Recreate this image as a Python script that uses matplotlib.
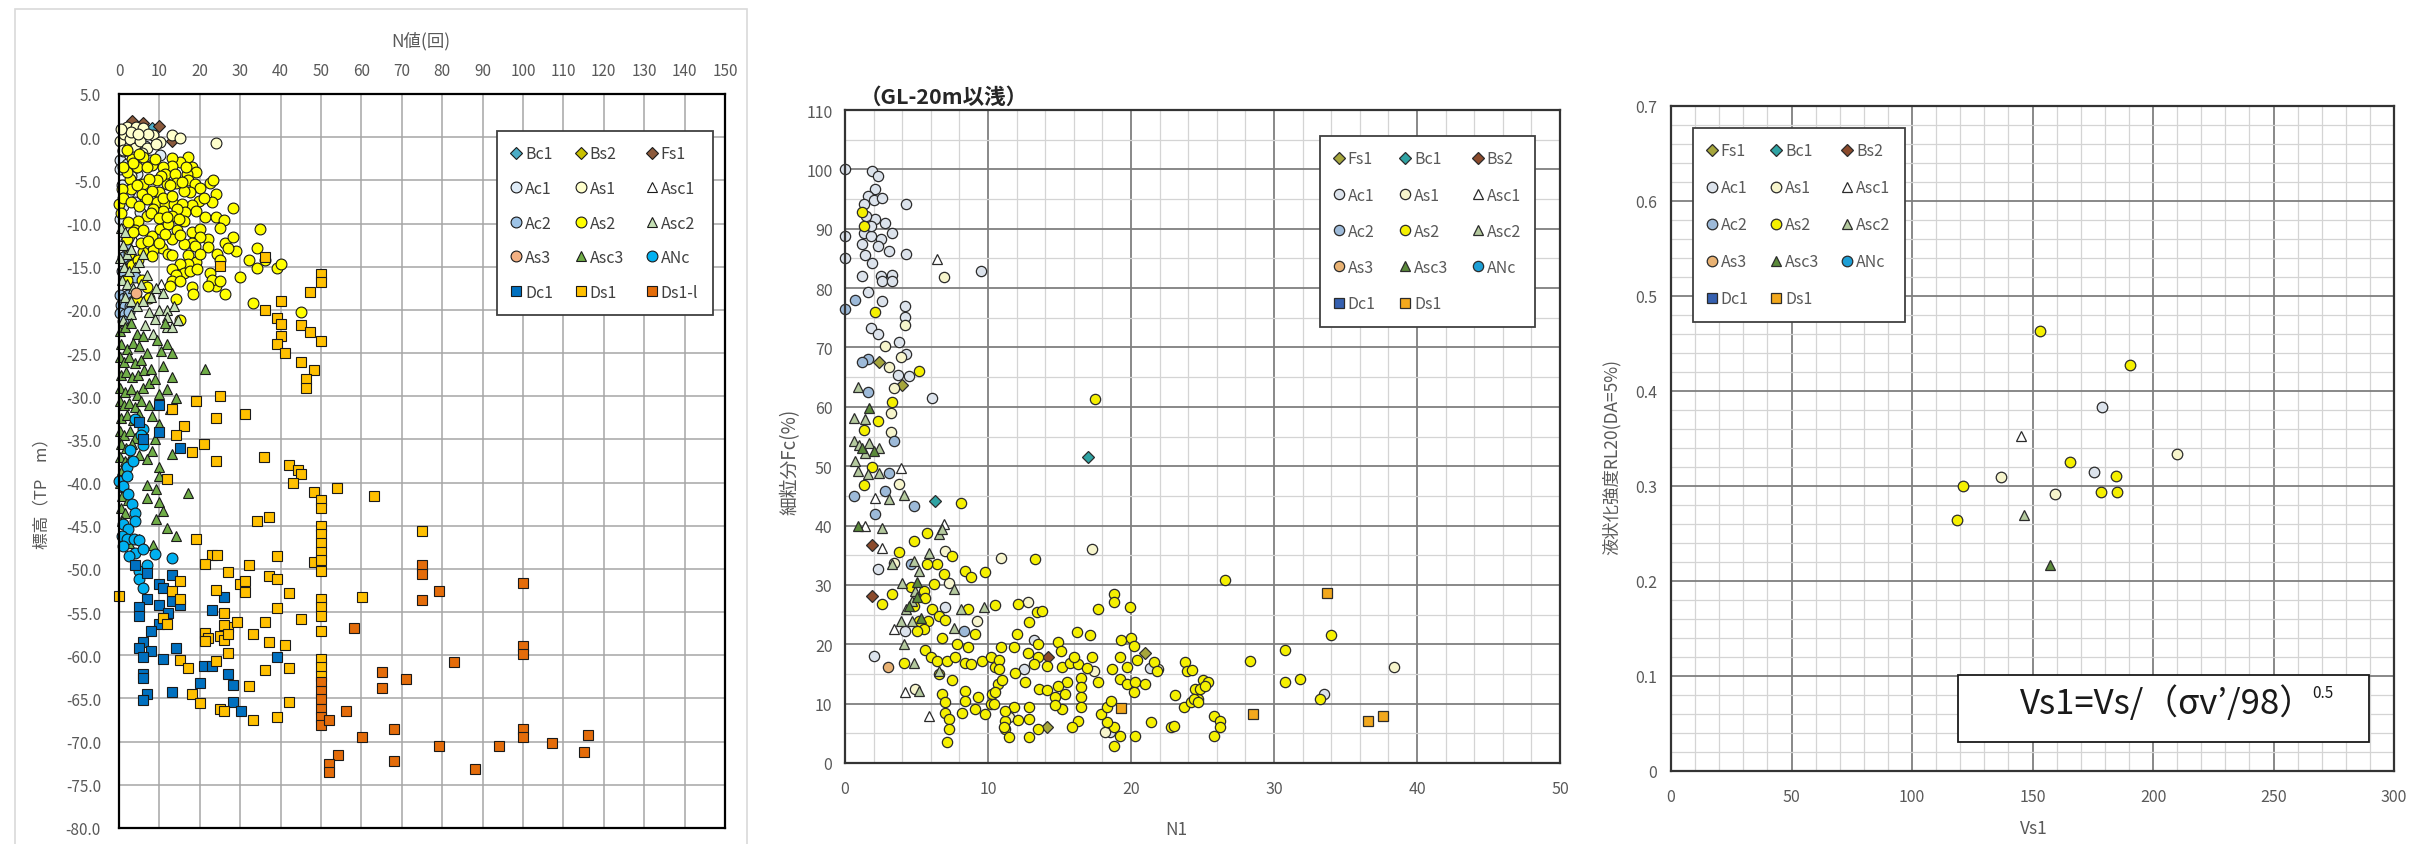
import matplotlib
matplotlib.use('Agg')
import numpy as np
import matplotlib.pyplot as plt
from matplotlib.patches import Rectangle
from matplotlib.ticker import MultipleLocator

# ---------------- N値 vs 標高 (left chart) ----------------
# (N値, 標高 TP m)
bc1_p1 = [(8.2, 1.1)]
bs2_p1 = [(2.0, 0.5)]
fs1_p1 = [(3.1, 1.9), (6.0, 1.6), (10.0, 1.3), (13.0, -0.5)]
ac1_p1 = [(0.2, -2.7), (0.2, -3.7), (1.1, -1.6), (10.2, -2.1), (4.4, -4.3), (0.2, -9.5),
          (1.9, -3.1), (4.0, -7.5), (5.2, -8.7), (7.7, -2.7), (0.8, -5.5), (2.5, -6.3),
          (1.5, -0.8), (3.2, -3.8), (6.5, -1.0), (1.0, -8.0)]
as1_p1 = [(1.9, 1.2), (4.2, 1.2), (6.0, 1.1), (8.5, 0.3), (10.2, -0.6), (13.0, 0.2),
          (15.1, -0.1), (24.0, -0.7), (0.2, -0.4), (1.2, 0.4), (2.7, -0.2), (4.0, -1.2),
          (5.2, -0.4), (6.9, -1.2), (2.9, 0.6), (7.3, 0.4), (4.8, 0.4), (5.6, -1.8),
          (0.5, 1.0), (3.5, -2.3), (1.0, -1.5), (9.2, -0.8), (5.8, -3.0), (3.0, -4.5)]
asc1_p1 = [(2.5, -10.3), (4.0, -12.0), (6.5, -13.5), (1.5, -11.5), (10.5, -17.0)]
ac2_p1 = [(0.3, -18.3), (1.2, -18.6), (2.3, -18.3), (0.5, -19.4), (1.5, -19.6), (2.6, -19.5),
          (0.3, -20.4), (1.4, -20.5), (2.5, -20.3), (1.0, -21.3), (3.5, -19.0), (0.8, -15.5),
          (1.5, -16.5), (3.0, -14.5), (4.0, -16.2), (2.0, -12.8), (1.1, -13.9)]
as2_p1 = [(17.2, -2.3), (18.0, -3.5), (19.1, -4.0), (15.1, -2.9), (13.1, -2.4), (13.1, -3.3),
          (11.0, -3.5), (11.4, -4.3), (13.9, -4.3), (16.8, -4.3), (17.0, -5.0), (18.8, -5.4),
          (20.1, -5.9), (22.6, -5.3), (23.2, -5.0), (24.0, -6.6), (23.0, -7.5), (19.9, -7.4),
          (18.0, -7.8), (17.6, -6.3), (16.0, -6.2), (14.1, -5.3), (12.0, -5.4), (10.0, -6.4),
          (8.1, -6.2), (6.0, -5.4), (2.7, -4.8), (1.9, -4.0), (3.1, -2.5), (6.0, -2.3),
          (8.1, -3.2), (4.4, -3.5), (2.9, -6.0), (0.7, -6.0), (0.1, -7.7), (1.1, -7.0),
          (5.6, -6.6), (6.9, -7.2), (9.3, -7.5), (11.4, -7.7), (13.5, -7.7), (15.5, -7.7),
          (16.4, -8.7), (14.3, -8.3), (13.1, -9.1), (11.0, -8.5), (8.5, -8.3), (6.9, -9.1),
          (4.8, -9.7), (4.0, -10.8), (1.9, -11.8), (6.0, -10.8), (8.1, -11.4), (10.2, -10.6),
          (12.2, -10.1), (14.3, -10.8), (16.0, -9.7), (18.0, -11.0), (20.1, -10.6), (21.3, -9.2),
          (24.0, -9.3), (26.0, -9.6), (25.0, -10.5), (28.2, -8.2), (22.1, -11.8), (20.1, -11.6),
          (18.0, -12.2), (16.0, -12.4), (13.1, -11.8), (10.6, -12.8), (8.5, -13.1), (6.0, -13.3),
          (8.1, -13.8), (12.2, -13.5), (13.1, -13.6), (17.0, -13.6), (18.8, -12.6), (22.1, -12.7),
          (24.2, -13.5), (26.3, -12.2), (28.2, -11.6), (29.0, -13.2), (27.1, -12.8), (25.0, -14.2),
          (19.1, -14.5), (17.0, -14.7), (15.1, -14.7), (13.1, -15.3), (16.0, -15.7), (14.1, -16.0),
          (13.1, -16.6), (15.1, -16.6), (17.6, -15.5), (19.3, -15.3), (22.6, -15.7), (24.0, -17.2),
          (23.0, -16.5), (25.0, -16.6), (26.3, -18.2), (22.1, -17.2), (18.0, -17.4), (18.3, -18.2),
          (12.6, -17.2), (35.0, -10.6), (34.1, -12.8), (32.1, -14.2), (34.1, -15.2), (36.2, -14.2),
          (39.1, -15.2), (40.1, -14.7), (30.0, -16.2), (33.1, -19.2), (45.1, -20.2), (14.1, -18.7),
          (15.1, -21.2), (2.0, -1.5), (3.5, -3.0), (5.0, -2.0), (7.0, -3.5), (9.0, -2.5),
          (10.5, -4.5), (12.5, -5.5), (9.5, -5.0), (7.5, -4.8), (4.5, -5.5), (3.0, -7.5),
          (5.0, -8.0), (7.8, -8.8), (9.8, -9.4), (12.0, -9.2), (14.8, -9.5), (10.8, -7.0),
          (13.0, -6.8), (15.5, -5.2), (16.5, -3.5), (2.2, -9.8), (3.5, -11.0), (5.5, -12.3),
          (7.2, -12.0), (9.8, -12.2), (11.5, -11.2), (15.0, -11.3), (19.0, -8.5), (21.0, -7.0),
          (20.0, -13.5), (2.5, -13.5), (3.2, -14.8), (4.8, -14.2), (5.8, -16.5), (7.0, -17.3),
          (7.5, -18.6), (4.5, -18.8), (2.0, -16.5), (0.5, -8.8), (1.0, -3.5)]
asc2_p1 = [(0.5, -10.5), (1.5, -11.0), (1.0, -12.5), (2.0, -13.5), (3.0, -13.0), (0.3, -14.0),
           (1.2, -15.0), (2.5, -15.5), (4.0, -15.0), (5.0, -14.5), (6.0, -13.5), (0.8, -16.5),
           (2.0, -17.0), (3.5, -17.5), (5.5, -17.0), (7.0, -16.0), (1.5, -18.5), (3.0, -19.0),
           (4.5, -19.5), (6.0, -19.0), (8.0, -18.5), (9.1, -17.5), (10.8, -18.0), (7.5, -20.2),
           (9.0, -21.0), (10.0, -20.0), (11.8, -20.0), (12.0, -20.8), (13.6, -19.5), (11.8, -22.0),
           (13.0, -22.0), (14.5, -21.2), (8.5, -22.8), (6.5, -21.8), (3.0, -20.5), (1.0, -21.2)]
as3_p1 = [(4.1, -18.0)]
asc3_p1 = [(0.2, -22.5), (1.5, -22.0), (3.0, -21.5), (4.5, -22.8), (0.5, -24.0), (2.0, -24.5),
           (3.5, -23.8), (5.0, -24.2), (6.0, -23.0), (0.2, -25.5), (1.2, -26.0), (2.5, -25.5),
           (4.0, -26.2), (5.5, -25.8), (7.0, -25.0), (0.5, -27.5), (1.8, -27.2), (3.2, -27.8),
           (4.8, -27.5), (6.2, -27.0), (8.0, -26.8), (0.3, -29.0), (1.5, -29.5), (3.0, -29.2),
           (4.5, -29.8), (6.0, -29.0), (7.5, -28.5), (9.0, -28.0), (0.2, -30.5), (1.2, -31.0),
           (2.5, -30.8), (4.0, -31.2), (5.5, -30.5), (0.5, -32.5), (2.0, -32.2), (3.5, -32.8),
           (5.0, -32.0), (0.2, -34.0), (1.3, -34.5), (2.7, -34.0), (4.0, -34.8), (0.5, -35.5),
           (1.8, -36.0), (3.2, -35.5), (0.2, -37.0), (1.5, -37.5), (2.8, -37.2), (0.8, -38.5),
           (2.0, -39.0), (0.3, -40.0), (1.5, -40.5), (0.8, -41.5), (2.2, -42.0), (0.5, -43.0),
           (1.5, -43.5), (0.8, -44.5), (1.2, -46.0), (2.5, -47.0), (5.0, -46.5), (8.3, -47.2),
           (12.0, -24.0), (13.1, -25.0), (13.1, -27.8), (12.0, -29.2), (14.0, -30.2), (10.0, -29.7),
           (8.1, -32.3), (10.0, -33.2), (13.1, -36.7), (8.1, -36.3), (5.0, -36.8), (7.0, -37.3),
           (10.0, -38.2), (10.0, -39.2), (6.9, -40.3), (9.1, -40.8), (7.0, -41.8), (10.0, -42.2),
           (11.0, -43.3), (9.1, -44.2), (12.0, -45.3), (14.0, -46.2), (17.0, -41.2), (21.2, -26.9),
           (9.5, -23.5), (11.0, -26.5), (7.5, -31.0), (11.5, -21.5), (10.5, -24.8), (12.5, -31.5),
           (9.0, -35.0)]
anc_p1 = [(4.0, -32.6), (6.0, -33.8), (6.0, -35.7), (1.9, -38.2), (0.0, -39.8), (1.9, -39.2),
          (1.1, -40.4), (2.3, -41.3), (3.1, -42.5), (4.0, -43.5), (4.0, -44.4), (1.1, -44.8),
          (2.3, -45.4), (0.7, -46.2), (1.9, -46.5), (3.6, -46.5), (5.0, -46.7), (1.1, -47.3),
          (4.0, -48.1), (6.0, -47.7), (8.9, -48.3), (13.1, -48.7), (5.0, -50.2), (5.0, -51.2),
          (6.0, -52.2), (2.5, -48.5), (7.0, -49.5), (3.5, -37.5), (2.8, -36.2), (5.5, -34.5)]
dc1_p1 = [(10.0, -31.0), (5.0, -33.0), (10.0, -34.1), (6.0, -35.0), (15.1, -36.0), (4.0, -49.6),
          (7.0, -50.5), (13.1, -50.7), (10.0, -51.7), (11.0, -52.2), (7.0, -53.5), (5.0, -54.4),
          (5.0, -55.5), (10.0, -54.2), (13.1, -53.7), (12.1, -55.1), (15.1, -54.2), (10.0, -56.4),
          (8.0, -57.2), (6.0, -58.5), (5.0, -59.2), (8.0, -59.5), (6.0, -60.2), (14.0, -59.2),
          (11.0, -60.4), (23.1, -54.7), (26.1, -53.2), (21.1, -61.2), (23.1, -61.2), (27.1, -62.2),
          (6.0, -62.2), (6.0, -62.6), (20.1, -63.2), (28.1, -63.4), (7.0, -64.5), (6.0, -65.2),
          (13.1, -64.2), (39.1, -60.2), (28.1, -65.4), (30.2, -66.4)]
ds1_p1 = [(36.2, -13.9), (25.0, -14.9), (50.1, -15.9), (50.1, -16.8), (47.2, -17.9), (40.2, -19.0),
          (36.2, -20.0), (39.1, -20.9), (40.2, -21.6), (45.1, -21.8), (47.2, -22.6), (50.1, -23.6),
          (40.2, -23.0), (39.1, -24.0), (41.2, -25.0), (45.1, -26.0), (48.2, -27.0), (46.3, -28.0),
          (46.3, -29.0), (19.1, -30.5), (25.0, -30.0), (13.1, -31.5), (24.0, -32.5), (31.1, -32.1),
          (16.1, -33.5), (14.0, -34.5), (21.1, -35.5), (18.0, -36.5), (24.0, -37.5), (36.0, -37.0),
          (42.1, -38.0), (44.2, -38.5), (45.1, -39.0), (43.0, -40.0), (12.0, -39.6), (54.0, -40.6),
          (48.2, -41.1), (50.1, -42.0), (50.1, -43.0), (34.1, -44.5), (37.1, -44.0), (19.1, -46.5),
          (50.1, -45.0), (50.1, -46.0), (50.1, -47.0), (50.1, -48.0), (23.1, -48.4), (24.2, -48.4),
          (39.1, -48.5), (75.1, -45.6), (63.1, -41.6), (60.1, -53.2), (21.2, -49.4), (32.1, -49.5),
          (27.1, -50.4), (37.1, -50.8), (39.1, -51.2), (30.0, -51.7), (31.1, -51.4), (31.1, -52.7),
          (24.0, -52.4), (42.1, -52.8), (0.1, -53.1), (15.1, -51.4), (13.1, -52.5), (15.1, -53.5),
          (26.1, -55.1), (39.1, -54.5), (45.1, -55.8), (11.0, -55.7), (12.0, -56.4), (27.1, -56.7),
          (29.2, -56.2), (26.1, -56.5), (21.2, -57.4), (22.1, -58.0), (21.2, -58.4), (25.0, -57.8),
          (26.1, -58.2), (27.1, -57.5), (33.1, -57.5), (36.1, -56.2), (37.1, -58.5), (41.2, -58.8),
          (27.1, -59.7), (15.1, -60.5), (17.0, -61.5), (24.0, -60.7), (36.1, -61.7), (42.1, -61.5),
          (32.1, -63.5), (18.0, -64.5), (20.1, -65.5), (25.0, -66.2), (26.1, -66.5), (33.1, -67.5),
          (39.1, -67.2), (42.1, -65.4), (48.2, -49.2), (50.1, -49.0), (50.1, -50.2), (50.1, -53.5),
          (50.1, -54.4), (50.1, -55.4), (50.1, -57.2), (50.1, -60.4), (50.1, -61.4), (50.1, -62.4)]
ds1l_p1 = [(50.1, -63.1), (50.1, -64.1), (50.1, -65.1), (50.1, -66.2), (50.1, -67.2), (50.1, -68.1),
           (52.1, -67.5), (54.1, -71.5), (52.1, -72.6), (52.1, -73.5), (75.1, -49.6), (75.1, -50.6),
           (75.1, -53.6), (79.2, -52.6), (100.1, -51.6), (100.1, -58.9), (100.1, -59.9), (83.0, -60.8),
           (58.1, -56.8), (65.2, -61.9), (65.2, -63.8), (71.1, -62.8), (56.2, -66.5), (60.1, -69.5),
           (68.1, -68.5), (68.1, -72.2), (79.2, -70.5), (88.2, -73.2), (94.1, -70.5), (100.1, -68.5),
           (100.1, -69.5), (107.2, -70.2), (116.2, -69.2), (115.1, -71.2)]

# ---------------- N1 vs 細粒分Fc (middle chart, GL-20m以浅) ----------------
fs1_p2 = [(2.4, 67.5), (4.0, 63.6), (21.0, 18.6), (14.1, 6.0)]
bc1_p2 = [(17.0, 51.5), (6.3, 44.2)]
bs2_p2 = [(1.9, 36.8), (1.9, 28.2), (14.2, 17.8)]
ac1_p2 = [(0.0, 100.0), (1.9, 99.8), (2.3, 98.9), (2.1, 96.7), (1.6, 95.5), (2.0, 94.9), (2.6, 95.1),
          (1.3, 94.1), (4.3, 94.2), (2.1, 91.6), (1.3, 89.3), (1.8, 88.8), (3.3, 89.2), (0.0, 88.7),
          (2.5, 88.2), (1.2, 87.4), (2.3, 87.1), (3.1, 86.3), (4.3, 85.7), (0.0, 85.0), (1.4, 85.5),
          (1.9, 84.3), (1.2, 82.1), (2.5, 82.1), (3.3, 82.2), (2.6, 81.2), (3.3, 81.2), (9.5, 82.9),
          (1.6, 79.4), (2.6, 77.9), (4.2, 77.0), (4.2, 75.1), (1.8, 73.2), (2.3, 72.3), (3.8, 70.9),
          (4.3, 68.9), (3.7, 65.4), (4.5, 65.2), (6.1, 61.5), (1.8, 90.5), (2.8, 91.0), (1.5, 92.2),
          (2.3, 32.6), (2.0, 18.1), (7.0, 26.2), (4.2, 22.3), (33.5, 11.6), (13.2, 20.8), (18.5, 5.3),
          (21.3, 16.0), (12.5, 15.8)]
as1_p2 = [(6.9, 81.8), (4.2, 73.7), (2.8, 70.3), (3.9, 68.4), (3.1, 66.7), (3.4, 63.1), (3.2, 59.0),
          (3.2, 55.8), (10.9, 34.6), (9.2, 24.0), (4.9, 12.5), (3.4, 33.7), (7.3, 30.4), (7.0, 35.7),
          (17.3, 36.0), (12.8, 27.2), (21.9, 15.8), (17.4, 15.5), (38.4, 16.2), (11.5, 7.8), (3.8, 47.0),
          (18.2, 5.3)]
asc1_p2 = [(6.4, 84.9), (3.9, 49.7), (1.4, 39.9), (2.6, 36.3), (6.9, 40.2), (2.1, 44.7), (5.9, 8.0),
           (4.2, 12.0), (3.4, 22.5)]
ac2_p2 = [(0.0, 76.5), (0.7, 78.0), (1.6, 68.1), (1.6, 62.5), (0.6, 45.0), (2.1, 41.9), (3.1, 48.9),
          (3.4, 54.2), (2.8, 45.8), (4.8, 43.3), (8.3, 22.3), (4.6, 33.5), (1.2, 67.5)]
as2_p2 = [(1.2, 92.8), (1.3, 90.4), (2.1, 75.9), (5.2, 66.0), (3.3, 60.8), (2.3, 57.6), (1.3, 56.1),
          (17.5, 61.3), (1.3, 46.8), (1.9, 49.8), (8.1, 43.8), (5.7, 38.8), (4.8, 37.4), (3.8, 35.6),
          (6.4, 33.5), (5.7, 33.5), (6.9, 31.8), (7.5, 34.9), (8.4, 32.4), (8.8, 31.3), (9.8, 32.2),
          (6.2, 30.2), (5.5, 29.0), (4.6, 29.6), (3.3, 28.4), (2.6, 26.8), (5.6, 27.8), (6.1, 25.9),
          (5.2, 24.0), (5.8, 24.0), (6.6, 24.8), (7.0, 24.1), (8.6, 25.9), (10.5, 26.6), (5.5, 22.5),
          (5.0, 22.2), (6.8, 21.1), (7.8, 20.0), (8.6, 19.5), (9.1, 21.7), (5.6, 19.0), (6.0, 17.8),
          (6.4, 17.2), (7.1, 17.2), (7.7, 17.8), (8.4, 16.9), (8.8, 16.6), (9.6, 17.2), (10.2, 17.8),
          (10.9, 19.5), (10.5, 16.1), (6.6, 15.0), (7.5, 13.9), (8.4, 12.2), (9.3, 11.1), (10.3, 11.6),
          (10.7, 13.3), (6.8, 11.6), (7.0, 10.2), (7.0, 8.5), (7.3, 7.4), (7.3, 5.7), (7.1, 3.5),
          (8.4, 10.5), (9.1, 9.1), (9.8, 8.3), (10.2, 9.9), (11.2, 7.1), (11.2, 5.7), (4.8, 26.5),
          (4.1, 16.9), (8.2, 8.5), (13.3, 34.3), (18.8, 28.4), (18.8, 27.2), (19.9, 26.2), (17.7, 26.0),
          (12.1, 26.8), (13.4, 25.4), (13.8, 25.6), (12.9, 23.7), (12.0, 21.7), (11.8, 19.6),
          (16.2, 22.0), (17.1, 21.6), (19.3, 20.7), (20.0, 21.0), (20.2, 19.7), (14.9, 20.3),
          (15.1, 18.9), (13.5, 20.0), (12.8, 18.6), (13.5, 17.8), (10.8, 17.4), (10.8, 15.8),
          (13.2, 16.7), (14.1, 16.4), (15.2, 16.2), (15.7, 16.9), (16.3, 16.7), (16.9, 16.0),
          (16.0, 17.9), (17.3, 17.8), (19.2, 17.8), (20.4, 17.3), (19.7, 16.2), (18.7, 15.8),
          (19.2, 14.1), (21.6, 17.0), (21.8, 15.5), (23.8, 17.0), (23.9, 15.5), (25.0, 13.9),
          (24.5, 12.5), (23.1, 11.4), (23.7, 9.4), (24.2, 10.2), (24.7, 10.8), (22.8, 6.1), (21.4, 6.9),
          (20.3, 4.6), (18.8, 6.0), (19.2, 4.6), (18.8, 2.9), (18.3, 6.9), (17.9, 8.3), (18.3, 9.5),
          (18.6, 10.5), (19.7, 13.3), (20.3, 13.6), (21.0, 13.3), (20.2, 11.9), (17.7, 13.6),
          (16.5, 14.4), (16.5, 12.8), (16.5, 11.1), (16.5, 9.4), (15.5, 13.6), (15.4, 11.6),
          (14.9, 13.0), (14.7, 11.1), (15.2, 9.1), (14.7, 9.7), (16.3, 7.1), (15.9, 6.0), (13.6, 12.5),
          (14.1, 12.3), (12.6, 13.6), (11.9, 15.1), (11.0, 13.9), (10.5, 11.9), (10.4, 9.9),
          (11.8, 9.4), (11.2, 8.8), (12.9, 9.4), (12.9, 7.4), (12.1, 7.3), (11.1, 6.0), (11.5, 4.3),
          (12.9, 4.3), (13.5, 5.7), (26.6, 30.8), (34.0, 21.5), (30.8, 19.0), (28.3, 17.1),
          (31.8, 14.2), (30.8, 13.6), (33.2, 10.8), (25.8, 8.0), (26.2, 7.1), (25.8, 4.6), (26.2, 6.1),
          (24.8, 12.4), (25.4, 13.6), (24.4, 10.8), (24.7, 10.2), (23.0, 6.2), (24.3, 15.7),
          (25.2, 13.0)]
asc2_p2 = [(0.9, 63.4), (0.6, 58.2), (1.4, 58.0), (0.6, 54.2), (1.0, 53.6), (1.7, 53.9), (1.4, 52.2),
           (2.4, 53.1), (0.7, 50.8), (0.9, 49.2), (1.6, 48.6), (2.4, 48.9), (3.1, 44.4), (4.1, 45.2),
           (2.6, 39.6), (6.6, 38.5), (5.9, 35.4), (5.2, 32.4), (4.0, 30.4), (4.9, 29.0), (4.7, 27.3),
           (4.3, 25.9), (3.9, 24.0), (4.7, 24.0), (7.6, 29.3), (8.1, 25.9), (9.7, 26.2), (7.6, 22.8),
           (4.1, 20.0), (4.8, 16.9), (5.2, 12.2), (6.6, 15.5), (6.8, 39.4), (3.3, 33.5), (4.8, 34.0)]
as3_p2 = [(3.0, 16.1)]
asc3_p2 = [(1.7, 59.8), (1.2, 53.0), (2.0, 52.5), (0.9, 39.9), (5.0, 28.0), (4.5, 26.5), (5.3, 24.5),
           (5.0, 30.5)]
ds1_p2 = [(33.7, 28.6), (28.5, 8.2), (36.6, 7.1), (37.6, 8.0), (19.3, 9.2)]

# ---------------- Vs1 vs RL20 (right chart) ----------------
as2_p3 = [(153.0, 0.463), (190.5, 0.427), (165.6, 0.325), (184.7, 0.311), (178.3, 0.294),
          (185.2, 0.294), (121.1, 0.300), (118.6, 0.264)]
as1_p3 = [(137.1, 0.309), (159.2, 0.292), (210.0, 0.334)]
ac1_p3 = [(178.8, 0.383), (175.7, 0.315)]
asc1_p3 = [(145.3, 0.353)]
asc2_p3 = [(146.5, 0.269)]
asc3_p3 = [(157.3, 0.217)]

# legend layout (row by row, as shown in the boxes)
rows_p1 = [['Bc1', 'Bs2', 'Fs1'], ['Ac1', 'As1', 'Asc1'], ['Ac2', 'As2', 'Asc2'],
           ['As3', 'Asc3', 'ANc'], ['Dc1', 'Ds1', 'Ds1-l']]
rows_p23 = [['Fs1', 'Bc1', 'Bs2'], ['Ac1', 'As1', 'Asc1'], ['Ac2', 'As2', 'Asc2'],
            ['As3', 'Asc3', 'ANc'], ['Dc1', 'Ds1']]

data_p1 = {'Bc1': bc1_p1, 'Bs2': bs2_p1, 'Fs1': fs1_p1, 'Ac1': ac1_p1, 'As1': as1_p1,
           'Asc1': asc1_p1, 'Ac2': ac2_p1, 'As2': as2_p1, 'Asc2': asc2_p1, 'As3': as3_p1,
           'Asc3': asc3_p1, 'ANc': anc_p1, 'Dc1': dc1_p1, 'Ds1': ds1_p1, 'Ds1-l': ds1l_p1}
data_p2 = {'Fs1': fs1_p2, 'Bc1': bc1_p2, 'Bs2': bs2_p2, 'Ac1': ac1_p2, 'As1': as1_p2,
           'Asc1': asc1_p2, 'Ac2': ac2_p2, 'As2': as2_p2, 'Asc2': asc2_p2, 'As3': as3_p2,
           'Asc3': asc3_p2, 'ANc': [], 'Dc1': [], 'Ds1': ds1_p2}
data_p3 = {'Fs1': [], 'Bc1': [], 'Bs2': [], 'Ac1': ac1_p3, 'As1': as1_p3, 'Asc1': asc1_p3,
           'Ac2': [], 'As2': as2_p3, 'Asc2': asc2_p3, 'As3': [], 'Asc3': asc3_p3, 'ANc': [],
           'Dc1': [], 'Ds1': []}

style_p1 = {'Bc1': ('D', '#4BACC6'), 'Bs2': ('D', '#C8C000'), 'Fs1': ('D', '#8C5A3C'),
            'Ac1': ('o', '#DEEBF7'), 'As1': ('o', '#FFFFCC'), 'Asc1': ('^', '#FFFFFF'),
            'Ac2': ('o', '#9DC3E6'), 'As2': ('o', '#FFFF00'), 'Asc2': ('^', '#C5E0B4'),
            'As3': ('o', '#F4B183'), 'Asc3': ('^', '#70AD47'), 'ANc': ('o', '#00B0F0'),
            'Dc1': ('s', '#0070C0'), 'Ds1': ('s', '#FFC000'), 'Ds1-l': ('s', '#E46C0A')}
style_p23 = {'Fs1': ('D', '#A6A63C'), 'Bc1': ('D', '#2FA3A3'), 'Bs2': ('D', '#8B4A2B'),
             'Ac1': ('o', '#DCE3EC'), 'As1': ('o', '#F7F5CC'), 'Asc1': ('^', '#FFFFFF'),
             'Ac2': ('o', '#9DBAD9'), 'As2': ('o', '#F5F000'), 'Asc2': ('^', '#B4C99E'),
             'As3': ('o', '#E9B273'), 'Asc3': ('^', '#5B8A3A'), 'ANc': ('o', '#1D9FD6'),
             'Dc1': ('s', '#3560B0'), 'Ds1': ('s', '#F2A81D')}

NARROW = ['Liberation Sans Narrow', 'Noto Sans CJK JP']
JP = ['Noto Sans CJK JP', 'DejaVu Sans']
GRAY = '#595959'

W, H = 2420, 845
fig = plt.figure(figsize=(W / 100, H / 100), dpi=100)


def rect(l, t, r, b):
    return [l / W, 1 - b / H, (r - l) / W, (b - t) / H]


def draw_series(ax, data, styles, order, ms, mew, edge):
    handles = {}
    for name in order:
        marker, color = styles[name]
        pts = np.array(data[name], dtype=float).reshape(-1, 2)
        size = ms * 0.8 if marker == 'D' else (ms * 0.95 if marker == 's' else ms)
        h, = ax.plot(pts[:, 0], pts[:, 1], linestyle='none', marker=marker, ms=size,
                     mfc=color, mec=edge, mew=mew, label=name, clip_on=False)
        handles[name] = h
    return handles


def add_legend(ax, handles, rows, anchor, fontsize, textcolor, colsp, labsp):
    order = [row[c] for c in range(3) for row in rows if c < len(row)]
    leg = ax.legend([handles[n] for n in order], order, ncol=3, loc='upper left',
                    bbox_to_anchor=anchor, borderaxespad=0, frameon=True, fancybox=False,
                    framealpha=1, handlelength=0.6, handletextpad=0.25, columnspacing=colsp,
                    labelspacing=labsp, borderpad=0.9,
                    prop={'family': NARROW, 'size': fontsize})
    leg.get_frame().set_edgecolor('#404040')
    leg.get_frame().set_linewidth(1.3)
    for t in leg.get_texts():
        t.set_color(textcolor)
    return leg


# ---- left chart ----
fig.add_artist(Rectangle((15 / W, -0.02), 732 / W, 1 - 10 / H + 0.02, transform=fig.transFigure,
                         fill=False, edgecolor='#D9D9D9', lw=1.2))
ax1 = fig.add_axes(rect(119, 95, 725, 829))
ax1.set_xlim(0, 150)
ax1.set_ylim(-80, 5)
ax1.xaxis.tick_top()
ax1.set_xticks(np.arange(0, 151, 10))
yt = np.arange(-80, 6, 5)
ax1.set_yticks(yt)
ax1.set_yticklabels([f'{v:.1f}' for v in yt])
ax1.tick_params(length=0, labelcolor=GRAY, labelsize=11)
ax1.tick_params(axis='x', pad=11)
ax1.tick_params(axis='y', pad=13)
for lab in ax1.get_xticklabels() + ax1.get_yticklabels():
    lab.set_family(NARROW)
ax1.set_axisbelow(True)
ax1.grid(True, color='#A6A6A6', lw=1.1)
for s in ax1.spines.values():
    s.set_color('#000000')
    s.set_linewidth(1.6)
h1 = draw_series(ax1, data_p1, style_p1, [n for r in rows_p1 for n in r], 7.8, 0.8, '#1A1A1A')
add_legend(ax1, h1, rows_p1, (0.624, 0.9496), 11.5, '#404040', 1.45, 1.1)
fig.text(421 / W, 1 - 41 / H, 'N値(回)', ha='center', va='center', fontsize=12.5,
         color=GRAY, family=NARROW)
fig.text(42 / W, 1 - 490 / H, '標高（TP　m）', ha='center', va='center', rotation=90,
         fontsize=12, color=GRAY, family=JP)

# ---- middle chart ----
ax2 = fig.add_axes(rect(845, 111, 1560, 764))
ax2.set_xlim(0, 50)
ax2.set_ylim(0, 110)
ax2.xaxis.set_major_locator(MultipleLocator(10))
ax2.xaxis.set_minor_locator(MultipleLocator(2))
ax2.yaxis.set_major_locator(MultipleLocator(10))
ax2.yaxis.set_minor_locator(MultipleLocator(5))
ax2.tick_params(which='both', length=0, labelcolor=GRAY, labelsize=11.5)
ax2.tick_params(axis='x', pad=12)
ax2.tick_params(axis='y', pad=9)
for lab in ax2.get_xticklabels() + ax2.get_yticklabels():
    lab.set_family(NARROW)
ax2.set_axisbelow(True)
ax2.grid(True, which='minor', color='#D4D4D4', lw=0.9)
ax2.grid(True, which='major', color='#7F7F7F', lw=1.3)
for s in ax2.spines.values():
    s.set_color('#333333')
    s.set_linewidth(1.6)
h2 = draw_series(ax2, data_p2, style_p23, [n for r in rows_p23 for n in r], 7.4, 0.9, '#2B2B2B')
add_legend(ax2, h2, rows_p23, (0.664, 0.960), 11.5, GRAY, 1.55, 1.2)
fig.text(860 / W, 1 - 97 / H, '（GL-20m以浅）', ha='left', va='center', fontsize=15.5,
         fontweight='bold', color='#262626', family=JP)
fig.text(1176 / W, 1 - 830 / H, 'N1', ha='center', va='center', fontsize=12.5,
         color=GRAY, family=NARROW)
fig.text(790 / W, 1 - 462 / H, '細粒分Fc(%)', ha='center', va='center', rotation=90,
         fontsize=13.5, color=GRAY, family=JP)

# ---- right chart ----
ax3 = fig.add_axes(rect(1671, 107, 2394, 772))
ax3.set_xlim(0, 300)
ax3.set_ylim(0, 0.7)
ax3.xaxis.set_major_locator(MultipleLocator(50))
ax3.xaxis.set_minor_locator(MultipleLocator(10))
ax3.yaxis.set_major_locator(MultipleLocator(0.1))
ax3.yaxis.set_minor_locator(MultipleLocator(0.02))
ax3.yaxis.set_major_formatter(lambda v, p: '0' if abs(v) < 1e-9 else f'{v:.1f}')
ax3.tick_params(which='both', length=0, labelcolor=GRAY, labelsize=11.5)
ax3.tick_params(axis='x', pad=12)
ax3.tick_params(axis='y', pad=10)
for lab in ax3.get_xticklabels() + ax3.get_yticklabels():
    lab.set_family(NARROW)
ax3.set_axisbelow(True)
ax3.grid(True, which='minor', color='#D4D4D4', lw=0.9)
ax3.grid(True, which='major', color='#7F7F7F', lw=1.3)
for s in ax3.spines.values():
    s.set_color('#333333')
    s.set_linewidth(1.6)
h3 = draw_series(ax3, data_p3, style_p23, [n for r in rows_p23 for n in r], 7.6, 0.9, '#2B2B2B')
add_legend(ax3, h3, rows_p23, (0.030, 0.967), 11.5, GRAY, 1.45, 1.25)
fig.text(2034 / W, 1 - 829 / H, 'Vs1', ha='center', va='center', fontsize=12.5,
         color=GRAY, family=NARROW)
fig.text(1612 / W, 1 - 457 / H, '液状化強度RL20(DA=5%)', ha='center', va='center',
         rotation=90, fontsize=12.5, color=GRAY, family=JP)

# formula box
fig.add_artist(Rectangle((1958 / W, 1 - 743 / H), 411 / W, 67 / H, transform=fig.transFigure,
                         facecolor='white', edgecolor='#1A1A1A', lw=1.3, zorder=5))
fig.text(2020 / W, 1 - 704 / H, 'Vs1=Vs/（σv’/98）', ha='left', va='center', fontsize=25,
         color='#1A1A1A', family=NARROW, zorder=6)
fig.text(2312 / W, 1 - 694 / H, '0.5', ha='left', va='center', fontsize=11,
         color='#1A1A1A', family=NARROW, zorder=6)

fig.savefig('out.png', dpi=100, facecolor='white')
